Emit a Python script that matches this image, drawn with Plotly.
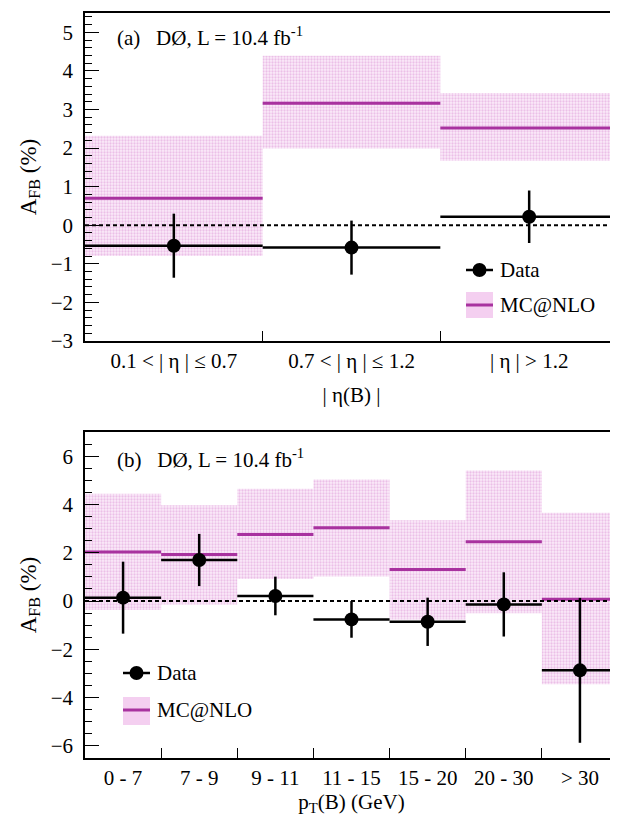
import numpy as np
import plotly.graph_objects as go

# ---- data (panel a: |eta(B)| bins) ----
eta_labels = ["0.1 < | η | ≤ 0.7", "0.7 < | η | ≤ 1.2", "| η | > 1.2"]
eta_data = [-0.53, -0.58, 0.22]
eta_err = [0.83, 0.70, 0.68]
eta_mc = [0.70, 3.16, 2.52]
eta_mc_lo = [-0.80, 1.99, 1.67]
eta_mc_hi = [2.32, 4.39, 3.43]

# ---- data (panel b: pT(B) bins) ----
pt_labels = ["0 - 7", "7 - 9", "9 - 11", "11 - 15", "15 - 20", "20 - 30", "> 30"]
pt_data = [0.14, 1.70, 0.21, -0.76, -0.86, -0.14, -2.87]
pt_err = [1.49, 1.08, 0.80, 0.76, 1.00, 1.33, 3.00]
pt_mc = [2.03, 1.93, 2.76, 3.03, 1.31, 2.46, 0.07]
pt_mc_lo = [-0.37, -0.14, 0.91, 1.02, -0.76, -0.51, -3.45]
pt_mc_hi = [4.44, 3.97, 4.65, 5.03, 3.35, 5.41, 3.66]

W, H = 618, 819
ML, MR, MT, MB = 77, 8, 5, 69
PW, PH = W - ML - MR, H - MT - MB

def px_x(px):
    return (px - ML) / PW

def px_y(py):
    return (H - MB - py) / PH

FONT = "Liberation Serif, Times New Roman, DejaVu Serif, serif"
FS = 21
MC_COL = "#a8329f"
BAND_FG = "#dc94d6"
BAND_BG = "rgba(251,236,249,1)"

fig = go.Figure()

def add_panel(fig, xa, ya, labels, data, err, mc, lo, hi):
    n = len(labels)
    xs = np.arange(n) + 0.5
    lo = np.array(lo); hi = np.array(hi)
    fig.add_trace(go.Bar(
        x=xs, y=hi - lo, base=lo, width=1.0, xaxis=xa, yaxis=ya,
        marker=dict(color=BAND_BG, line=dict(width=0),
                    pattern=dict(shape=".", fgcolor=BAND_FG, bgcolor=BAND_BG,
                                 size=3, solidity=0.45)),
        showlegend=False, hoverinfo="skip"))
    fig.add_trace(go.Scatter(
        x=xs, y=mc, mode="markers", xaxis=xa, yaxis=ya,
        marker=dict(size=1, color="rgba(0,0,0,0)"),
        error_x=dict(type="constant", value=0.5, width=0, thickness=3, color=MC_COL),
        showlegend=False))
    fig.add_trace(go.Scatter(
        x=[0, n], y=[0, 0], mode="lines", xaxis=xa, yaxis=ya,
        line=dict(color="black", width=2, dash="4px,3px"), showlegend=False))
    fig.add_trace(go.Scatter(
        x=xs, y=data, mode="markers", xaxis=xa, yaxis=ya,
        marker=dict(size=14, color="black"),
        error_x=dict(type="constant", value=0.5, width=0, thickness=2.5, color="black"),
        error_y=dict(type="data", array=err, width=0, thickness=2.5, color="black"),
        showlegend=False))

add_panel(fig, "x", "y", eta_labels, eta_data, eta_err, eta_mc, eta_mc_lo, eta_mc_hi)
add_panel(fig, "x2", "y2", pt_labels, pt_data, pt_err, pt_mc, pt_mc_lo, pt_mc_hi)

dom_a = [px_y(333), 1.0]
dom_b = [0.0, px_y(424)]

def xaxis_cfg(labels, domain_anchor, title, standoff):
    n = len(labels)
    return dict(
        range=[0, n], tickmode="array", tickvals=list(np.arange(n) + 0.5),
        ticktext=labels, ticks="", showgrid=False, zeroline=False,
        showline=True, linecolor="black", linewidth=1.5, mirror=True,
        tickfont=dict(family=FONT, size=FS, color="black"),
        ticklabelstandoff=0, automargin=False,
        minor=dict(tickmode="array", tickvals=list(range(1, n)), ticks="inside",
                   ticklen=10, tickwidth=1.2, tickcolor="black", showgrid=False),
        title=dict(text=title, font=dict(family=FONT, size=FS, color="black"),
                   standoff=standoff),
        anchor=domain_anchor, fixedrange=True)

def yaxis_cfg(rng, dtick, mdtick, domain, anchor):
    return dict(
        domain=domain, range=rng, tickmode="linear", tick0=0, dtick=dtick,
        ticks="inside", ticklen=14, tickwidth=1.2, tickcolor="black",
        showgrid=False, zeroline=False, showline=True, linecolor="black",
        linewidth=1.5, mirror=True, anchor=anchor, automargin=False,
        tickfont=dict(family=FONT, size=FS, color="black"),
        ticklabelstandoff=6,
        minor=dict(tick0=0, dtick=mdtick, ticks="inside", ticklen=7,
                   tickwidth=1.2, tickcolor="black", showgrid=False),
        title=dict(text="A<sub>FB</sub> (%)",
                   font=dict(family=FONT, size=23, color="black"), standoff=8),
        fixedrange=True)

fig.update_layout(
    width=W, height=H, margin=dict(l=ML, r=MR, t=MT, b=MB),
    paper_bgcolor="white", plot_bgcolor="white", barmode="overlay",
    showlegend=False, font=dict(family=FONT, size=FS, color="black"),
    xaxis=xaxis_cfg(eta_labels, "y", "| η(B) |", 15),
    yaxis=yaxis_cfg([-3, 5.5], 1, 0.2, dom_a, "x"),
    xaxis2=xaxis_cfg(pt_labels, "y2", "p<sub>T</sub>(B) (GeV)", 5),
    yaxis2=yaxis_cfg([-6.5, 7], 2, 0.5, dom_b, "x2"),
)

# ---- panel labels ----
for txt, py in [("(a)", 29), ("(b)", 450)]:
    fig.add_annotation(
        x=px_x(107), y=px_y(py), xref="paper", yref="paper",
        xanchor="left", yanchor="middle", showarrow=False,
        text=txt + "   DØ, L = 10.4 fb<sup>-1</sup>",
        font=dict(family=FONT, size=FS, color="black"))

# ---- manual legends ----
def legend(x0, x1, y_data, y_mc, box_top, box_bot):
    shapes = []
    shapes.append(dict(type="rect", xref="paper", yref="paper",
                       x0=px_x(x0), x1=px_x(x1), y0=px_y(box_bot), y1=px_y(box_top),
                       fillcolor="#f4cff0", line=dict(width=0), layer="above"))
    shapes.append(dict(type="line", xref="paper", yref="paper",
                       x0=px_x(x0), x1=px_x(x1), y0=px_y(y_mc), y1=px_y(y_mc),
                       line=dict(color=MC_COL, width=3)))
    shapes.append(dict(type="line", xref="paper", yref="paper",
                       x0=px_x(x0), x1=px_x(x1), y0=px_y(y_data), y1=px_y(y_data),
                       line=dict(color="black", width=2.5)))
    cx = (x0 + x1) / 2
    r = 7
    shapes.append(dict(type="circle", xref="paper", yref="paper",
                       x0=px_x(cx - r), x1=px_x(cx + r),
                       y0=px_y(y_data + r), y1=px_y(y_data - r),
                       fillcolor="black", line=dict(color="black", width=0)))
    for s in shapes:
        fig.add_shape(**s)
    for txt, yy in [("Data", y_data), ("MC@NLO", y_mc)]:
        fig.add_annotation(x=px_x(x1 + 5), y=px_y(yy), xref="paper", yref="paper",
                           xanchor="left", yanchor="middle", showarrow=False,
                           text=txt, font=dict(family=FONT, size=FS, color="black"))

legend(458, 485, 262, 297, 284, 310)
legend(115, 142, 665, 702, 689, 717)

fig.write_html("out.html")
